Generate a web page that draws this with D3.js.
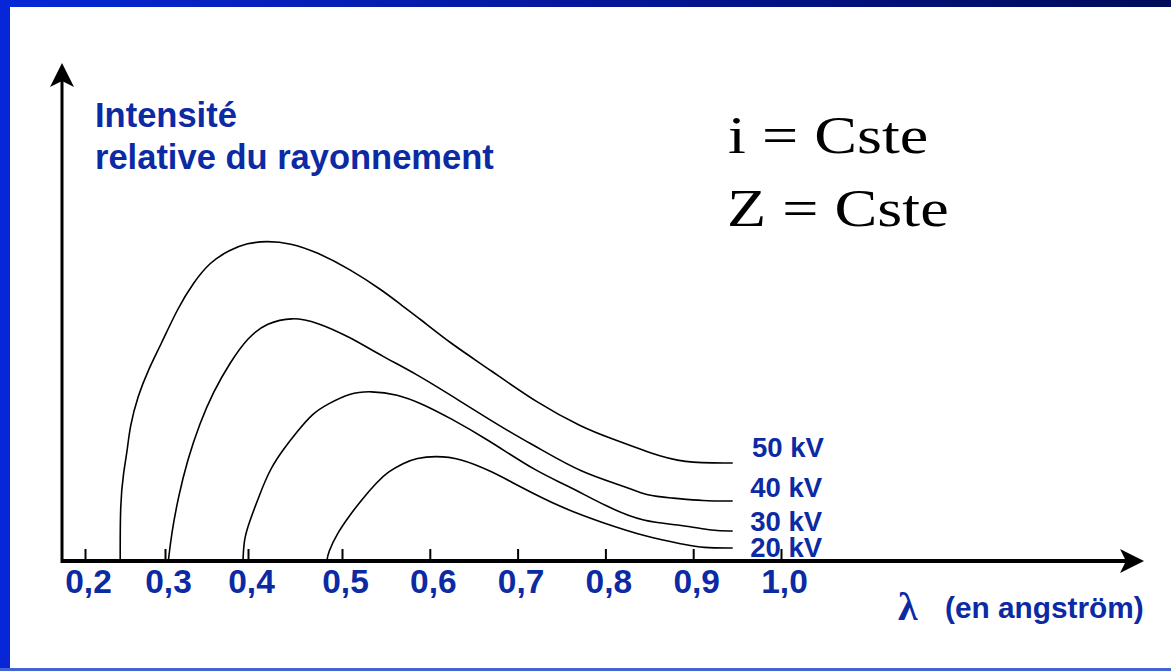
<!DOCTYPE html>
<html>
<head>
<meta charset="utf-8">
<script src="https://cdn.jsdelivr.net/npm/d3@7"></script>
<style>
  html, body { margin: 0; padding: 0; background: #ffffff; }
  svg { display: block; }
</style>
</head>
<body>
<svg id="chart" width="1171" height="671"></svg>
<script>
// ---------------- DATA ----------------
const tickValues = [0.2, 0.3, 0.4, 0.5, 0.6, 0.7, 0.8, 0.9, 1.0];
const tickLabels = ["0,2", "0,3", "0,4", "0,5", "0,6", "0,7", "0,8", "0,9", "1,0"];

const seriesNames = ["50 kV", "40 kV", "30 kV", "20 kV"];

// [wavelength (angström), relative intensity]
const kv50 = [[0.244,0],[0.244,11.6],[0.248,17.6],[0.253,22.2],[0.256,26.8],[0.266,33.0],[0.279,38.2],[0.294,43.0],[0.316,50.8],[0.334,55.6],[0.354,59.8],[0.378,62.2],[0.399,63.6],[0.420,64.0],[0.445,63.6],[0.473,61.8],[0.509,58.4],[0.547,54.0],[0.566,51.4],[0.589,48.4],[0.623,43.6],[0.669,38.2],[0.722,31.6],[0.775,26.6],[0.805,24.6],[0.851,21.6],[0.888,19.6],[0.945,19.6]];
const kv40 = [[0.304,0],[0.308,5.6],[0.316,12.8],[0.327,20.2],[0.342,27.6],[0.358,33.8],[0.378,39.6],[0.400,44.8],[0.420,47.6],[0.447,48.8],[0.473,47.8],[0.509,44.8],[0.547,40.8],[0.581,37.8],[0.638,31.6],[0.665,28.6],[0.703,24.6],[0.722,22.8],[0.773,17.6],[0.825,14.8],[0.847,13.0],[0.877,12.6],[0.911,12.0],[0.945,12.0]];
const kv30 = [[0.394,0],[0.395,4.2],[0.401,7.6],[0.413,13.6],[0.423,18.2],[0.437,22.2],[0.452,25.8],[0.469,29.6],[0.485,31.4],[0.509,33.6],[0.532,34.0],[0.563,33.4],[0.592,31.4],[0.623,28.6],[0.665,24.4],[0.722,17.8],[0.756,15.2],[0.802,10.8],[0.843,7.8],[0.888,7.2],[0.923,6.0],[0.945,6.0]];
const kv20 = [[0.484,0],[0.485,1.6],[0.495,5.6],[0.509,9.2],[0.524,12.6],[0.540,15.8],[0.552,17.8],[0.570,19.6],[0.585,20.6],[0.606,21.0],[0.634,20.6],[0.672,17.8],[0.699,15.2],[0.748,10.8],[0.794,7.8],[0.851,4.6],[0.888,3.4],[0.911,2.6],[0.945,2.6]];

const seriesValues = [kv50, kv40, kv30, kv20];

// label anchor (in data units) for each series
const labelLambda = [0.967, 0.965, 0.965, 0.965];
const labelLevel = [20.8, 12.8, 6.0, 0.9];

// ---------------- DRAW ----------------
const svg = d3.select("#chart");
const blue = "#0b2aa3";
const sans = "'Liberation Sans', Arial, sans-serif";
const serif = "'Liberation Serif', 'Times New Roman', serif";

// frame
const defs = svg.append("defs");
const grad = defs.append("linearGradient").attr("id", "topbar").attr("x1", "0%").attr("x2", "100%");
grad.append("stop").attr("offset", "0%").attr("stop-color", "#0628d6");
grad.append("stop").attr("offset", "45%").attr("stop-color", "#0418a0");
grad.append("stop").attr("offset", "100%").attr("stop-color", "#000b58");
svg.append("rect").attr("x", 0).attr("y", 0).attr("width", 1171).attr("height", 7).attr("fill", "url(#topbar)");
svg.append("rect").attr("x", 0).attr("y", 0).attr("width", 10).attr("height", 671).attr("fill", "#0626d8");
svg.append("rect").attr("x", 0).attr("y", 668).attr("width", 1171).attr("height", 3).attr("fill", "#4563d2");

// scales
const x = d3.scaleLinear()
  .domain([0.2, 0.3, 0.4, 0.5, 1.0])
  .range([85, 165, 248, 342, 781]);
const y = d3.scaleLinear().domain([0, 100]).range([561, 61]);

// axis lines with arrows
const x0 = 62, yAxisBase = y(0);
svg.append("line").attr("x1", x0).attr("x2", 1128).attr("y1", yAxisBase).attr("y2", yAxisBase)
  .attr("stroke", "#000").attr("stroke-width", 4);
svg.append("line").attr("x1", x0).attr("x2", x0).attr("y1", yAxisBase + 2).attr("y2", 78)
  .attr("stroke", "#000").attr("stroke-width", 3);
svg.append("path").attr("d", `M1144,${yAxisBase} L1120,${yAxisBase-12} L1126,${yAxisBase} L1120,${yAxisBase+12} Z`).attr("fill", "#000");
svg.append("path").attr("d", `M${x0},63 L${x0-12},87 L${x0},81 L${x0+12},87 Z`).attr("fill", "#000");

// x axis ticks + labels
const xAxis = d3.axisBottom(x)
  .tickValues(tickValues)
  .tickFormat((d, i) => tickLabels[i])
  .tickSizeInner(-10)
  .tickSizeOuter(0)
  .tickPadding(10);
const gx = svg.append("g").attr("transform", `translate(0,${yAxisBase - 2})`).call(xAxis);
gx.select(".domain").remove();
gx.selectAll(".tick line").attr("stroke", "#000").attr("stroke-width", 2);
gx.selectAll(".tick text")
  .attr("fill", blue)
  .attr("font-family", sans)
  .attr("font-weight", "bold")
  .attr("font-size", 33.5)
  .attr("dx", 3)
  .attr("dy", "0.71em");

// curves
const line = d3.line()
  .x(d => x(d[0]))
  .y(d => y(d[1]))
  .curve(d3.curveBasis);

svg.append("g").selectAll("path.curve")
  .data(seriesValues)
  .join("path")
  .attr("class", "curve")
  .attr("d", line)
  .attr("fill", "none")
  .attr("stroke", "#000")
  .attr("stroke-width", 1.6);

// series labels
svg.append("g").selectAll("text.kv")
  .data(seriesNames)
  .join("text")
  .attr("class", "kv")
  .attr("x", (d, i) => x(labelLambda[i]))
  .attr("y", (d, i) => y(labelLevel[i]))
  .attr("fill", blue)
  .attr("font-family", sans)
  .attr("font-weight", "bold")
  .attr("font-size", 27.5)
  .text(d => d);

// y title
const ytitle = svg.append("text")
  .attr("fill", blue)
  .attr("font-family", sans)
  .attr("font-weight", "bold")
  .attr("font-size", 34.5);
ytitle.append("tspan").attr("x", 95).attr("y", 127).text("Intensité");
ytitle.append("tspan").attr("x", 95).attr("y", 169).text("relative du rayonnement");

// x title
svg.append("text")
  .attr("x", 898).attr("y", 620)
  .attr("fill", blue)
  .attr("font-family", serif)
  .attr("font-weight", "bold")
  .attr("font-size", 40)
  .text("λ");
svg.append("text")
  .attr("x", 945).attr("y", 618)
  .attr("fill", blue)
  .attr("font-family", sans)
  .attr("font-weight", "bold")
  .attr("font-size", 29.8)
  .text("(en angström)");

// constants annotation
const notes = ["i = Cste", "Z = Cste"];
svg.append("g").selectAll("text.note")
  .data(notes)
  .join("text")
  .attr("class", "note")
  .attr("transform", (d, i) => `translate(${i === 0 ? 728 : 727},${i === 0 ? 153 : 226}) scale(1.235,1)`)
  .attr("fill", "#000")
  .attr("font-family", serif)
  .attr("font-size", 52)
  .text(d => d);
</script>
</body>
</html>
